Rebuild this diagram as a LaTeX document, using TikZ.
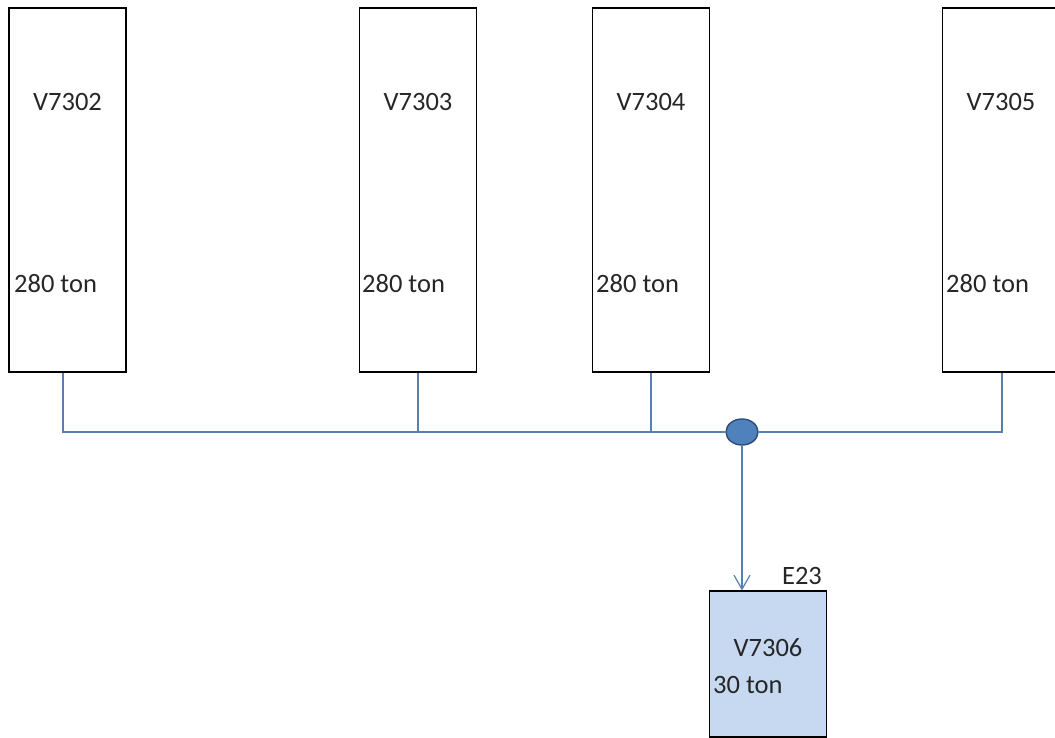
\documentclass[tikz,border=0pt]{standalone}
\usepackage{fontspec}
\setmainfont{Carlito}
\usetikzlibrary{arrows.meta, shapes.geometric}
\definecolor{PipeBlue}{HTML}{5580B0}
\definecolor{JuncBlue}{HTML}{4F81BD}
\definecolor{JuncEdge}{HTML}{2C4D75}
\definecolor{BoxBlue}{HTML}{C6D9F1}
\definecolor{TextDark}{HTML}{262626}

\tikzset{
    tank/.style={draw, line width=1.2pt, minimum width=117pt, minimum height=364pt, inner sep=0pt},
    tag/.style={font=\fontsize{26.5}{30}\selectfont, text=TextDark, inner sep=0pt},
    pipe/.style={PipeBlue, line width=1.2pt},
}

\begin{document}
\begin{tikzpicture}[x=1pt, y=-1pt, >={Straight Barb[length=14pt, width=16pt]}]
    \useasboundingbox (0,0) rectangle (1055,738);

    % Storage tanks
    \node[tank] (t2) at (67.5,190) {};
    \node[tank] (t3) at (418,190) {};
    \node[tank] (t4) at (651,190) {};
    \node[tank] (t5) at (1001,190) {};

    % Tank names
    \node[tag] (n2) at (67.5,102) {V7302};
    \node[tag] (n3) at (418,102) {V7303};
    \node[tag] (n4) at (651,102) {V7304};
    \node[tag] (n5) at (1001,102) {V7305};

    % Capacities
    \node[tag, anchor=west] (c2) at (14,284) {280 ton};
    \node[tag, anchor=west] (c3) at (362,284) {280 ton};
    \node[tag, anchor=west] (c4) at (596,284) {280 ton};
    \node[tag, anchor=west] (c5) at (946,284) {280 ton};

    % Junction on the header
    \node[ellipse, draw=JuncEdge, fill=JuncBlue, line width=1.4pt,
          minimum width=32pt, minimum height=26pt, inner sep=0pt] (junc) at (742,432) {};

    % Header and stubs
    \draw[pipe] ([xshift=-4.5pt]t2.south) |- (junc.west);
    \draw[pipe] (t3.south) -- (t3.south |- junc.center);
    \draw[pipe] (t4.south) -- (t4.south |- junc.center);
    \draw[pipe] ([xshift=1pt]t5.south) |- (junc.east);

    % Receiving vessel
    \node[tank, fill=BoxBlue, minimum height=146pt] (t6) at (768,664) {};
    \draw[pipe, ->] (junc.south) -- (junc.south |- t6.north);

    \node[tag] (e23) at (802,576) {E23};
    \node[tag] (n6) at (768,648) {V7306};
    \node[tag, anchor=west] (c6) at (713,685) {30 ton};
\end{tikzpicture}
\end{document}
